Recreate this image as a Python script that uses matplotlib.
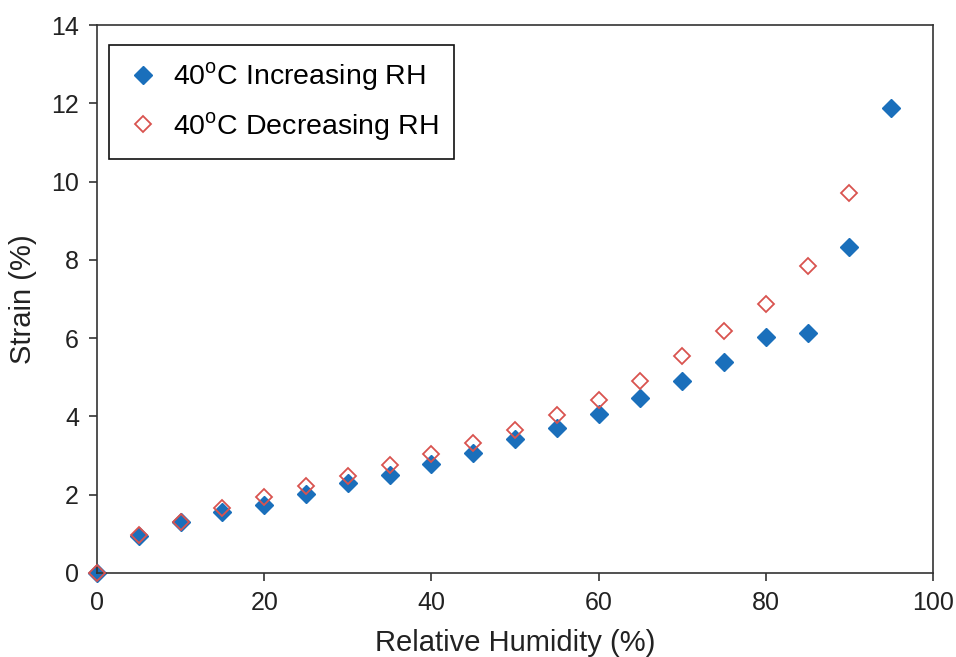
import matplotlib
matplotlib.use("Agg")
import matplotlib.pyplot as plt

plt.rcParams['font.family'] = ['Liberation Sans', 'DejaVu Sans']
plt.rcParams['mathtext.fontset'] = 'custom'
plt.rcParams['mathtext.rm'] = 'Liberation Sans'

rh = [0, 5, 10, 15, 20, 25, 30, 35, 40, 45, 50, 55, 60, 65, 70, 75, 80, 85, 90, 95]
strain_increasing = [0.0, 0.94, 1.29, 1.57, 1.74, 2.02, 2.31, 2.50, 2.78, 3.06, 3.42, 3.70,
                     4.05, 4.46, 4.91, 5.38, 6.02, 6.14, 8.33, 11.88]
rh_dec = [0, 5, 10, 15, 20, 25, 30, 35, 40, 45, 50, 55, 60, 65, 70, 75, 80, 85, 90]
strain_decreasing = [0.0, 0.96, 1.30, 1.65, 1.93, 2.21, 2.49, 2.77, 3.05, 3.32, 3.66, 4.03,
                     4.43, 4.90, 5.54, 6.18, 6.86, 7.85, 9.72]

blue = '#1a6fbb'
red = '#d9534f'
ink = '#222222'

fig = plt.figure(figsize=(9.56, 6.57), dpi=100)
ax = fig.add_axes([0.1015, 0.1279, 0.8745, 0.834])

ax.plot(rh, strain_increasing, linestyle='none', marker='D', markersize=9,
        color=blue, markeredgecolor=blue, clip_on=False, zorder=2,
        label='40$^\\mathregular{o}$C Increasing RH')
ax.plot(rh_dec, strain_decreasing, linestyle='none', marker='D', markersize=8.5,
        markerfacecolor='none', markeredgecolor=red, markeredgewidth=1.3,
        clip_on=False, zorder=3, label='40$^\\mathregular{o}$C Decreasing RH')

ax.set_xlim(0, 100)
ax.set_ylim(0, 14)
ax.set_xticks(range(0, 101, 20))
ax.set_yticks(range(0, 15, 2))

for s in ax.spines.values():
    s.set_color('#333333')
    s.set_linewidth(1.2)

ax.tick_params(direction='out', length=6, width=1.2, color='#333333',
               labelsize=18, labelcolor=ink, pad=7)
ax.set_xlabel('Relative Humidity (%)', fontsize=21, color=ink, labelpad=10)
ax.set_ylabel('Strain (%)', fontsize=21, color=ink, labelpad=10)

leg = ax.legend(loc='upper left', bbox_to_anchor=(0.0144, 0.964), fontsize=20.5,
                frameon=True, fancybox=False, borderpad=0.55, handletextpad=0.4,
                labelspacing=0.6, handlelength=1.3, borderaxespad=0)
leg.get_frame().set_edgecolor('#111111')
leg.get_frame().set_linewidth(1.2)
leg.get_frame().set_alpha(1)

fig.savefig('out.png', dpi=100)
